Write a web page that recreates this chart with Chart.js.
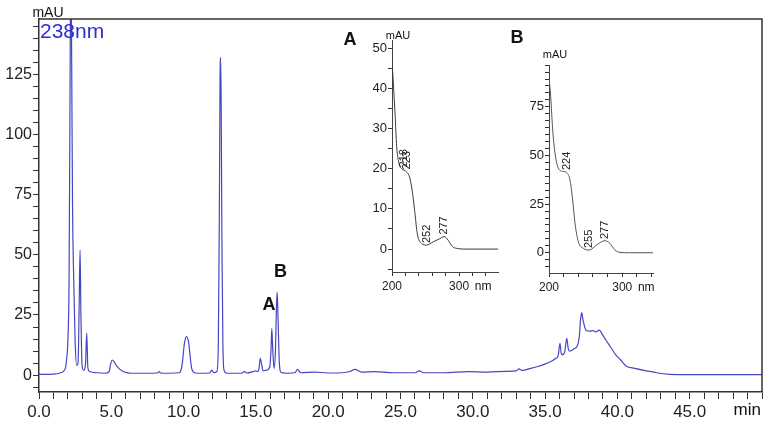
<!DOCTYPE html>
<html>
<head>
<meta charset="utf-8">
<title>Chromatogram 238 nm</title>
<script src="https://cdn.jsdelivr.net/npm/chart.js@4.4.0/dist/chart.umd.min.js"></script>
<style>
  html, body { margin: 0; padding: 0; background: #fff; }
  #wrap { position: relative; width: 773px; height: 427px; }
  #wrap canvas { position: absolute; }
  #main { left: 0; top: 0; }
  #insetA { left: 340px; top: 30px; }
  #insetB { left: 505px; top: 30px; }
</style>
</head>
<body>
<div id="wrap">
  <canvas id="main" width="773" height="427"></canvas>
  <canvas id="insetA" width="170" height="265"></canvas>
  <canvas id="insetB" width="165" height="265"></canvas>
</div>
<script>
// ---------- DATA ----------
// main chromatogram, 238 nm (time in min, signal in mAU)
const retentionTimes = [
  0, 1.0, 1.5, 1.8, 1.9, 2.0, 2.08, 2.14, 2.2, 2.26, 2.32, 2.4, 2.5, 2.6, 2.7, 2.78, 2.84, 2.9, 2.98,
  3.1, 3.22, 3.3, 3.38, 3.5, 4.0, 4.6, 4.85, 4.95, 5.07, 5.2, 5.4, 5.6, 5.9, 6.4, 7.5, 8.2, 8.3, 8.4,
  9.0, 9.7, 9.85, 9.95, 10.05, 10.2, 10.35, 10.45, 10.55, 10.7, 11.0, 11.8, 11.95, 12.1, 12.3, 12.4,
  12.47, 12.52, 12.56, 12.6, 12.65, 12.72, 12.8, 13.0, 14.0, 14.2, 14.4, 14.8, 15.0, 15.15, 15.22,
  15.3, 15.38, 15.5, 15.7, 15.96, 16.04, 16.1, 16.17, 16.26, 16.35, 16.42, 16.47, 16.53, 16.6, 16.68,
  16.8, 17.2, 17.7, 17.88, 18.1, 19.1, 20.0, 21.0, 21.5, 21.87, 22.3, 23.2, 24.5, 26.0, 26.3, 26.6,
  28.0, 29.7, 31.0, 32.3, 33.0, 33.2, 33.4, 34.0, 34.5, 35.1, 35.5, 35.75, 35.9, 36.03, 36.12, 36.2,
  36.35, 36.5, 36.6, 36.7, 37.0, 37.25, 37.38, 37.45, 37.53, 37.62, 37.83, 38.1, 38.3, 38.5, 38.75,
  39.0, 39.2, 39.5, 39.9, 40.2, 40.6, 41.2, 42.0, 42.8, 43.6, 45.0, 50.0
];
const absorbance238 = [
  0.3, 0.4, 1.0, 2.5, 6, 15, 40, 110, 175, 130, 70, 40, 14, 4, 5, 30, 52, 25, 4,
  2, 5, 17.5, 3, 1.5, 1.0, 0.8, 1.5, 4.5, 6.3, 5.5, 3.6, 2.4, 1.3, 0.8, 0.8, 0.9, 1.5, 0.9,
  0.8, 1.0, 2.8, 7, 13, 16, 13.5, 8, 3, 1.2, 0.8, 0.9, 2.1, 1.0, 1.5, 12,
  65, 122, 132, 112, 55, 12, 2, 0.8, 0.8, 1.5, 0.9, 1.5, 1.8, 1.5, 3,
  7, 5, 1.8, 2, 3.5, 10, 19.4, 10, 2.8, 10, 28, 34.5, 24, 8, 1.8,
  1.0, 0.8, 1.0, 2.4, 1.0, 1.3, 0.9, 1.0, 1.5, 2.4, 1.3, 1.5, 1.0, 1.0, 1.8, 1.0,
  1.0, 1.5, 1.3, 1.6, 1.8, 2.6, 2.0, 2.8, 3.6, 4.9, 6, 7, 8, 13.2, 9, 8.5,
  9.5, 15.3, 11, 10, 11, 12.5, 17, 23, 26, 23, 18.7, 18.3, 18.5, 18, 18.7,
  16.5, 14.6, 12, 8.3, 6.5, 3.8, 2.8, 1.8, 0.9, 0.3, 0.2, 0.2
];
const peakNames = ["A", "B"];
const peakLabelTimes = [15.9, 16.7];
const peakLabelHeights = [29, 43];

// UV spectrum of peak A (wavelength nm, mAU)
const spectrumAWavelengths = [200, 204.5, 207, 210.4, 214.4, 221.8, 226.7, 230.7, 234.2, 237.6, 244, 251.5, 261.4, 271.3, 277.7, 283.7, 290.2, 296, 310, 358];
const spectrumAValues = [47, 33.8, 25.5, 21.3, 20, 19.2, 17.6, 13.8, 8.9, 3.9, 1.4, 1.0, 1.8, 2.6, 3.1, 2.2, 0.6, 0.2, 0, 0];
const spectrumAMarks = ["218", "223", "252", "277"];
const spectrumAMarkValues = [19.8, 19.3, 1.0, 3.1];

// UV spectrum of peak B
const spectrumBWavelengths = [200, 202.3, 205, 208.2, 212.7, 219.5, 224, 228.6, 232.3, 235.5, 240, 246.8, 255, 265, 276.4, 283.2, 290, 296.9, 310, 342];
const spectrumBValues = [90, 80.4, 63.2, 51.2, 43.5, 41.8, 41.2, 37.5, 27.2, 15.2, 5.7, 2.3, 1.4, 4, 6.2, 4.8, 1.4, 0.2, 0, 0];
const spectrumBMarks = ["224", "255", "277"];
const spectrumBMarkValues = [41.5, 1.4, 6.0];

Chart.defaults.font.family = "'Liberation Sans', Arial, sans-serif";
Chart.defaults.color = "#222";

// ---------- HELPERS ----------
function stepTicks(step) {
  return (scale) => {
    const out = [];
    for (let k = Math.ceil(scale.min / step - 1e-9); k * step <= scale.max + 1e-9; k++) {
      out.push({ value: k * step });
    }
    scale.ticks = out;
  };
}

function labelEvery(every, fmt) {
  return (v) => {
    const r = Math.round(v / every);
    return Math.abs(v / every - r) < 1e-6 ? fmt(r * every) : "";
  };
}

function toPoints(xs, ys) {
  return xs.map((x, i) => ({ x: x, y: ys[i] }));
}

// draws a list of text items on the chart; each item gives its place in pixels
// relative to the chart area or in data units
const textPlugin = {
  id: "texts",
  afterDraw(chart, args, opts) {
    const ctx = chart.ctx;
    const area = chart.chartArea;
    const xs = chart.scales.x, ys = chart.scales.y;
    ctx.save();
    if (opts.frame) {
      ctx.strokeStyle = "#333";
      ctx.lineWidth = 1.5;
      ctx.beginPath();
      ctx.moveTo(area.left, area.top);
      ctx.lineTo(area.right, area.top);
      ctx.lineTo(area.right, area.bottom);
      ctx.stroke();
    }
    (opts.items || []).forEach((it) => {
      ctx.font = it.font;
      ctx.fillStyle = it.color || "#111";
      ctx.textAlign = it.align || "center";
      ctx.textBaseline = it.baseline || "middle";
      const x = it.x != null ? xs.getPixelForValue(it.x) + (it.dx || 0) : area[it.fromX] + it.dx;
      const y = it.y != null ? ys.getPixelForValue(it.y) + (it.dy || 0) : area[it.fromY] + it.dy;
      if (it.rotate) {
        ctx.translate(x, y);
        ctx.rotate(-Math.PI / 2);
        ctx.fillText(it.text, 0, 0);
        ctx.setTransform(1, 0, 0, 1, 0, 0);
      } else {
        ctx.fillText(it.text, x, y);
      }
    });
    ctx.restore();
  },
};

function axisGrid(len) {
  return { drawOnChartArea: false, drawTicks: true, tickLength: len, color: "#333" };
}

// ---------- MAIN CHROMATOGRAM ----------
const mainItems = [
  { text: "mAU", font: "14px 'Liberation Sans', Arial", fromX: "left", dx: 9, fromY: "top", dy: -6 },
  { text: "238nm", font: "21px 'Liberation Sans', Arial", color: "#2e2ed6", align: "left", fromX: "left", dx: 1, fromY: "top", dy: 13 },
  { text: "min", font: "17px 'Liberation Sans', Arial", align: "right", fromX: "right", dx: -1, fromY: "bottom", dy: 18 },
];
peakNames.forEach((name, i) => {
  mainItems.push({ text: name, font: "bold 18px 'Liberation Sans', Arial", x: peakLabelTimes[i], y: peakLabelHeights[i] });
});

new Chart(document.getElementById("main"), {
  type: "line",
  data: {
    datasets: [{
      data: toPoints(retentionTimes, absorbance238),
      borderColor: "#4646c2",
      borderWidth: 1.2,
      pointRadius: 0,
      cubicInterpolationMode: "monotone",
    }],
  },
  options: {
    responsive: false,
    animation: false,
    layout: { padding: { top: 19, right: 11, left: 0, bottom: 0 } },
    plugins: { legend: { display: false }, tooltip: { enabled: false }, texts: { frame: true, items: mainItems } },
    scales: {
      x: {
        type: "linear", min: 0, max: 50,
        afterBuildTicks: stepTicks(1),
        afterFit: (s) => { s.height = 35; },
        grid: axisGrid(7),
        border: { color: "#333", width: 1.5 },
        ticks: { autoSkip: false, maxRotation: 0, padding: 3, font: { size: 17 }, callback: labelEvery(5, (v) => (v < 50 ? v.toFixed(1) : "")) },
      },
      y: {
        min: -7, max: 148,
        afterBuildTicks: stepTicks(5),
        afterFit: (s) => { s.width = 39; },
        grid: axisGrid(6),
        border: { color: "#333", width: 1.5 },
        ticks: { autoSkip: false, padding: 1, font: { size: 16 }, callback: labelEvery(25, (v) => String(v)) },
      },
    },
  },
  plugins: [textPlugin],
});

// ---------- INSET SPECTRA ----------
function markItems(marks, values) {
  return marks.map((m, i) => ({
    text: m, font: "11px 'Liberation Sans', Arial", color: "#222", rotate: true,
    align: "left", baseline: "alphabetic", x: Number(m), dx: 3, y: values[i], dy: -2,
  }));
}

function spectrumChart(id, xs, ys, opt) {
  new Chart(document.getElementById(id), {
    type: "line",
    data: {
      datasets: [{
        data: toPoints(xs, ys),
        borderColor: opt.color,
        borderWidth: 1,
        pointRadius: 0,
        cubicInterpolationMode: "monotone",
      }],
    },
    options: {
      responsive: false,
      animation: false,
      layout: { padding: opt.padding },
      plugins: { legend: { display: false }, tooltip: { enabled: false }, texts: { items: opt.items } },
      scales: {
        x: {
          type: "linear", min: 200, max: opt.xMax,
          afterBuildTicks: stepTicks(20),
          afterFit: (s) => { s.height = opt.xHeight; },
          grid: axisGrid(4),
          border: { color: "#444", width: 1 },
          ticks: { autoSkip: false, maxRotation: 0, padding: 3, font: { size: 12 }, callback: (v) => (v === 200 || v === 300 ? String(v) : "") },
        },
        y: {
          min: opt.yMin, max: opt.yMax,
          afterBuildTicks: stepTicks(opt.yStep),
          afterFit: (s) => { s.width = opt.yWidth; },
          grid: axisGrid(4),
          border: { color: "#444", width: 1 },
          ticks: { autoSkip: false, padding: 1, font: { size: 13 }, callback: labelEvery(opt.yLabelEvery, (v) => String(v)) },
        },
      },
    },
    plugins: [textPlugin],
  });
}

const insetCommon = (letter, lx, ly, my) => [
  { text: letter, font: "bold 18px 'Liberation Sans', Arial", fromX: "left", dx: lx, fromY: "top", dy: ly },
  { text: "mAU", font: "11px 'Liberation Sans', Arial", fromX: "left", dx: 6, fromY: "top", dy: my },
  { text: "nm", font: "12px 'Liberation Sans', Arial", x: 300, dx: 24, fromY: "bottom", dy: 15 },
];

spectrumChart("insetA", spectrumAWavelengths, spectrumAValues, {
  color: "#3a3a3a", xMax: 358, yMin: -5.7, yMax: 52, yStep: 5, yLabelEvery: 10,
  padding: { top: 10, right: 12, left: 0, bottom: 0 }, yWidth: 52, xHeight: 23,
  items: insetCommon("A", -42, 0, -4).concat(markItems(spectrumAMarks, spectrumAMarkValues)),
});

spectrumChart("insetB", spectrumBWavelengths, spectrumBValues, {
  color: "#5a5050", xMax: 342, yMin: -10.4, yMax: 96.5, yStep: 25 / 7, yLabelEvery: 25,
  padding: { top: 35, right: 17, left: 0, bottom: 0 }, yWidth: 44, xHeight: 22,
  items: insetCommon("B", -32, -27, -10).concat(markItems(spectrumBMarks, spectrumBMarkValues)),
});
</script>
</body>
</html>
